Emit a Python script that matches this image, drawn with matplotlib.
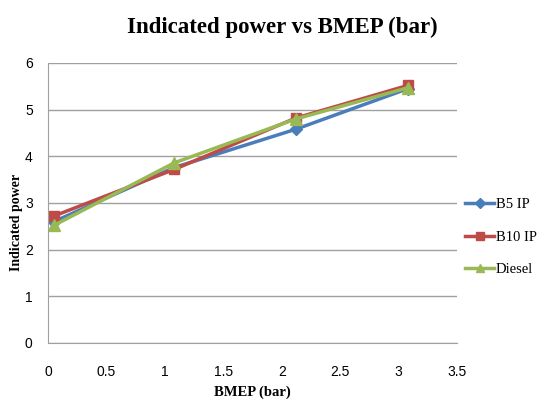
import matplotlib.pyplot as plt
from matplotlib import font_manager

bmep = [0.05, 1.08, 2.12, 3.08]
b5_ip = [2.6, 3.76, 4.58, 5.45]
b10_ip = [2.72, 3.72, 4.82, 5.52]
diesel = [2.52, 3.86, 4.8, 5.47]

series_names = ["B5 IP", "B10 IP", "Diesel"]
xticks = [0, 0.5, 1, 1.5, 2, 2.5, 3, 3.5]
yticks = [0, 1, 2, 3, 4, 5, 6]

names = {f.name for f in font_manager.fontManager.ttflist}
tick_font = "Liberation Sans Narrow" if "Liberation Sans Narrow" in names else "Liberation Sans"

fig = plt.figure(figsize=(5.53, 4.03), dpi=100)
ax = fig.add_axes([48 / 553, 1 - 343 / 403, (457 - 48) / 553, (343 - 63) / 403])

ax.plot(bmep, b5_ip, color="#4a7ebb", marker="D", markersize=6, linewidth=2.5, label=series_names[0])
ax.plot(bmep, b10_ip, color="#be4b48", marker="s", markersize=7, linewidth=2.5, label=series_names[1])
ax.plot(bmep, diesel, color="#98b954", marker="^", markersize=8, linewidth=2.5, label=series_names[2])

ax.set_xlim(0, 3.5)
ax.set_ylim(0, 6)
ax.set_xticks(xticks)
ax.set_xticklabels([f"{t:g}" for t in xticks])
ax.set_yticks(yticks)
ax.grid(axis="y", color="#a0a0a0", linewidth=1)
ax.set_axisbelow(True)
for s in ["top", "right"]:
    ax.spines[s].set_visible(False)
for s in ["left", "bottom"]:
    ax.spines[s].set_color("#a0a0a0")
ax.tick_params(axis="x", length=0, pad=16, labelsize=10)
ax.tick_params(axis="y", length=0, pad=11, labelsize=10)
for lab in ax.get_xticklabels() + ax.get_yticklabels():
    lab.set_fontfamily(tick_font)

fig.text(282 / 553, 1 - 27 / 403, "Indicated power vs BMEP (bar)", fontsize=16.5,
         fontweight="bold", family="Liberation Serif", ha="center", va="center")
fig.text(252 / 553, 1 - 392 / 403, "BMEP (bar)", fontsize=10.5, fontweight="bold",
         family="Liberation Serif", ha="center", va="center")
fig.text(17 / 553, 1 - 222 / 403, "Indicated power", fontsize=10, fontweight="bold",
         family="Liberation Serif", ha="center", va="center", rotation=90)

fig.legend(loc="center left", bbox_to_anchor=(465 / 553, 1 - 237 / 403), frameon=False,
           prop={"family": "Liberation Serif", "size": 10.5}, handlelength=2.0,
           handletextpad=0.1, labelspacing=1.3, borderaxespad=0, borderpad=0,
           markerscale=0.8)

fig.savefig("out.png", dpi=100)
